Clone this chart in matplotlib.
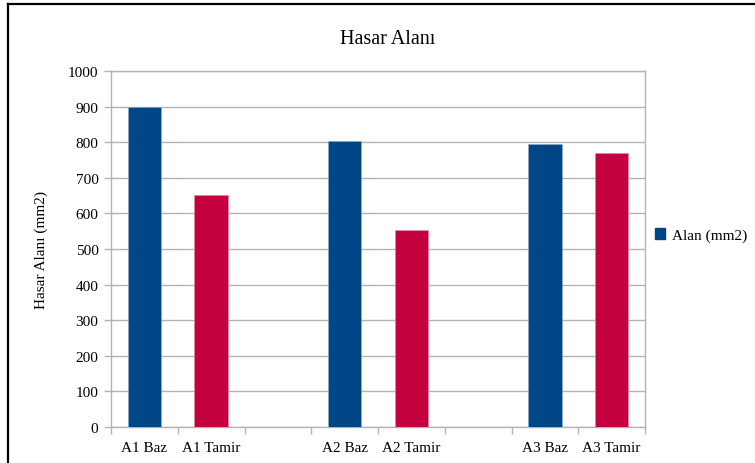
import numpy as np
import matplotlib
matplotlib.use("Agg")
import matplotlib.pyplot as plt
from matplotlib.lines import Line2D
from matplotlib.patches import Patch

plt.rcParams['font.family'] = ['Liberation Serif', 'DejaVu Serif']

# data (blank slots are the gaps between groups)
categories = ["A1 Baz", "A1 Tamir", "", "A2 Baz", "A2 Tamir", "", "A3 Baz", "A3 Tamir"]
values = [900, 652, np.nan, 803, 552, np.nan, 794, 769]
bar_colors = ["#004586", "#c5003e", "#004586", "#004586", "#c5003e", "#004586", "#004586", "#c5003e"]
series_name = "Alan (mm2)"
y_ticks = np.arange(0, 1001, 100)

grid_col = "#b3b3b3"

fig = plt.figure(figsize=(7.55, 4.64), dpi=100)
ax = fig.add_axes([111/755, 1 - 428/464, (645 - 111)/755, (428 - 72)/464])

x = np.arange(len(categories))
ax.bar(x, values, width=0.5, color=bar_colors, edgecolor="#8fb0d0", linewidth=0.4, zorder=3)
# lighter edge for red bars
for patch, c in zip(ax.patches, bar_colors):
    if c == "#c5003e":
        patch.set_edgecolor("#e08aa5")

ax.set_xlim(-0.5, len(categories) - 0.5)
ax.set_ylim(0, 1000)
ax.set_yticks(y_ticks)
ax.yaxis.grid(True, color=grid_col, linewidth=1, zorder=0)

# ticks between categories, labels centred under slots
ax.set_xticks(np.arange(-0.5, len(categories), 1.0))
ax.set_xticklabels([])
ax.set_xticks(x, minor=True)
ax.set_xticklabels(categories, minor=True)
ax.tick_params(axis="x", which="major", length=5, color=grid_col, width=1)
ax.tick_params(axis="x", which="minor", length=0, pad=10, labelsize=11)
ax.tick_params(axis="y", length=5, color=grid_col, width=1, labelsize=11, pad=4)

for s in ax.spines.values():
    s.set_color(grid_col)
    s.set_linewidth(1)

ax.set_ylabel("Hasar Alanı (mm2)", fontsize=11)
ax.yaxis.set_label_coords(-(111 - 48)/534, 0.5)

fig.text(388/755, 1 - 40/464, "Hasar Alanı", ha="center", va="center", fontsize=14.5)

handle = Patch(facecolor="#004586", edgecolor="#004586")
fig.legend([handle], [series_name], loc="center left", bbox_to_anchor=(641/755, 1 - 236/464),
           frameon=False, fontsize=11, handlelength=0.7, handleheight=0.7, handletextpad=0.4)

# outer frame lines (top and left only)
fig.add_artist(Line2D([8/755, 1], [1 - 5/464, 1 - 5/464], color="black", linewidth=1.6, transform=fig.transFigure))
fig.add_artist(Line2D([8/755, 8/755], [0, 1 - 5/464], color="black", linewidth=1.6, transform=fig.transFigure))

fig.savefig("out.png", dpi=100, facecolor="white")
